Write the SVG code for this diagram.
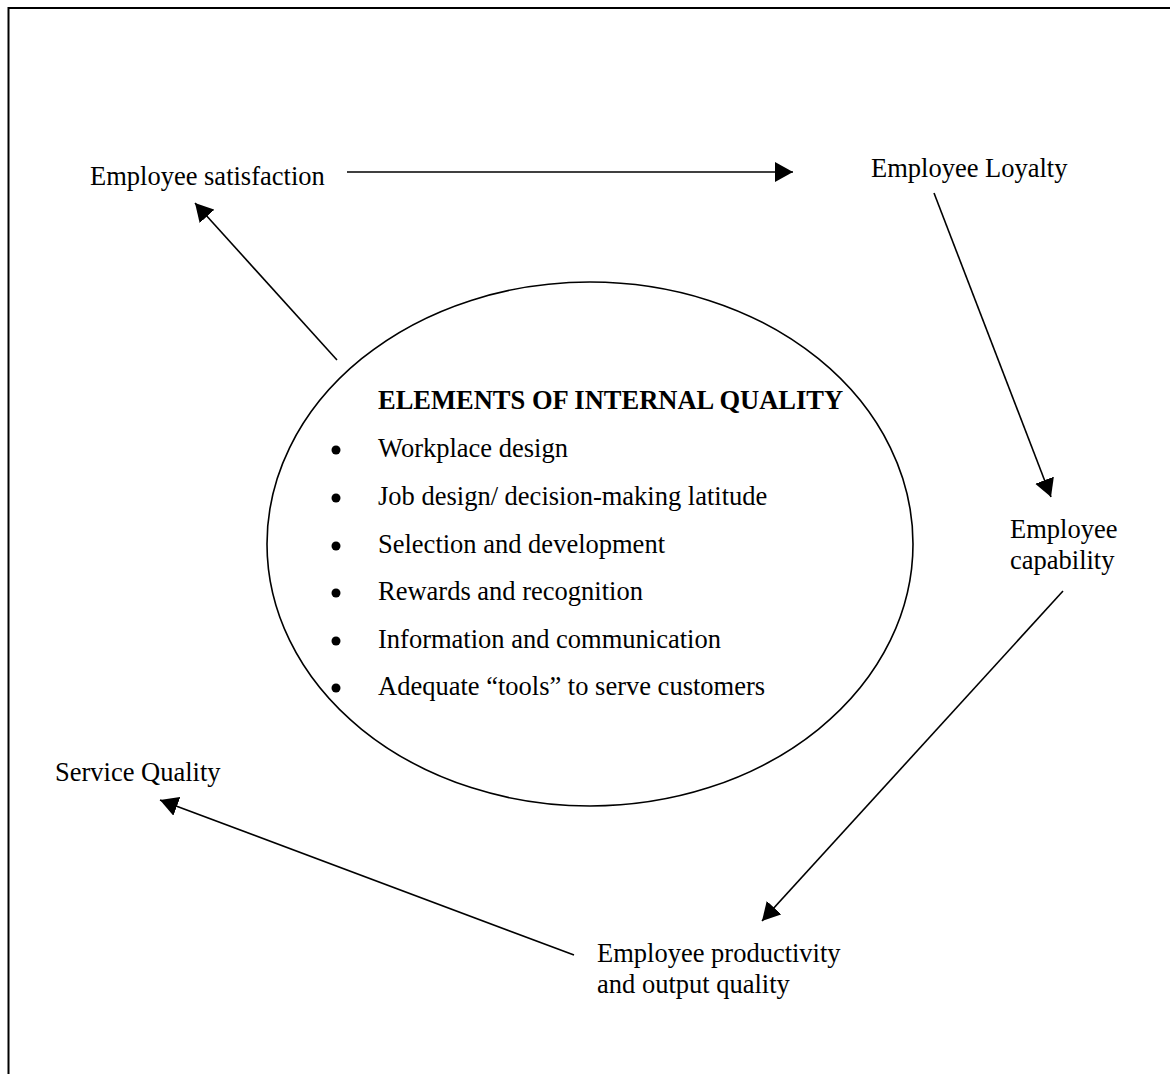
<svg xmlns="http://www.w3.org/2000/svg" width="1170" height="1074" viewBox="0 0 1170 1074">
  <style>
    text { font-family: "Liberation Serif", "Times New Roman", serif; font-size: 26.5px; fill: #000; }
    .head { font-weight: bold; }
    .edge { stroke: #000; stroke-width: 1.6; fill: none; marker-end: url(#arrow); }
  </style>
  <defs>
    <marker id="arrow" markerUnits="userSpaceOnUse" markerWidth="19" markerHeight="20" refX="18" refY="10" orient="auto">
      <path d="M0,0 L18,10 L0,20 Z" fill="#000"/>
    </marker>
  </defs>

  <rect width="1170" height="1074" fill="#fff"/>
  <!-- page frame, running off the right and bottom edges -->
  <rect x="8.5" y="8" width="1200" height="1100" fill="none" stroke="#000" stroke-width="2"/>

  <g id="internal-quality">
    <ellipse cx="590" cy="544" rx="323" ry="262" fill="none" stroke="#000" stroke-width="1.6"/>
    <text class="head" x="378" y="409">ELEMENTS OF INTERNAL QUALITY</text>
    <g fill="#000">
      <circle cx="336" cy="450" r="4.5"/>
      <circle cx="336" cy="498" r="4.5"/>
      <circle cx="336" cy="546" r="4.5"/>
      <circle cx="336" cy="593" r="4.5"/>
      <circle cx="336" cy="641" r="4.5"/>
      <circle cx="336" cy="688" r="4.5"/>
    </g>
    <text x="378" y="457">Workplace design</text>
    <text x="378" y="505">Job design/ decision-making latitude</text>
    <text x="378" y="553">Selection and development</text>
    <text x="378" y="600">Rewards and recognition</text>
    <text x="378" y="648">Information and communication</text>
    <text x="378" y="695">Adequate “tools” to serve customers</text>
  </g>

  <g id="employee-satisfaction">
    <text x="90" y="185">Employee satisfaction</text>
  </g>
  <g id="employee-loyalty">
    <text x="871" y="177">Employee Loyalty</text>
  </g>
  <g id="employee-capability">
    <text x="1010" y="538">Employee</text>
    <text x="1010" y="569">capability</text>
  </g>
  <g id="employee-productivity">
    <text x="597" y="962">Employee productivity</text>
    <text x="597" y="993">and output quality</text>
  </g>
  <g id="service-quality">
    <text x="55" y="781">Service Quality</text>
  </g>

  <g id="connectors">
    <line class="edge" x1="337" y1="360" x2="195" y2="203"/>
    <line class="edge" x1="347" y1="172" x2="793" y2="172"/>
    <line class="edge" x1="934" y1="193" x2="1051" y2="497"/>
    <line class="edge" x1="1063" y1="591" x2="762" y2="921"/>
    <line class="edge" x1="574" y1="955" x2="160" y2="800"/>
  </g>
</svg>
